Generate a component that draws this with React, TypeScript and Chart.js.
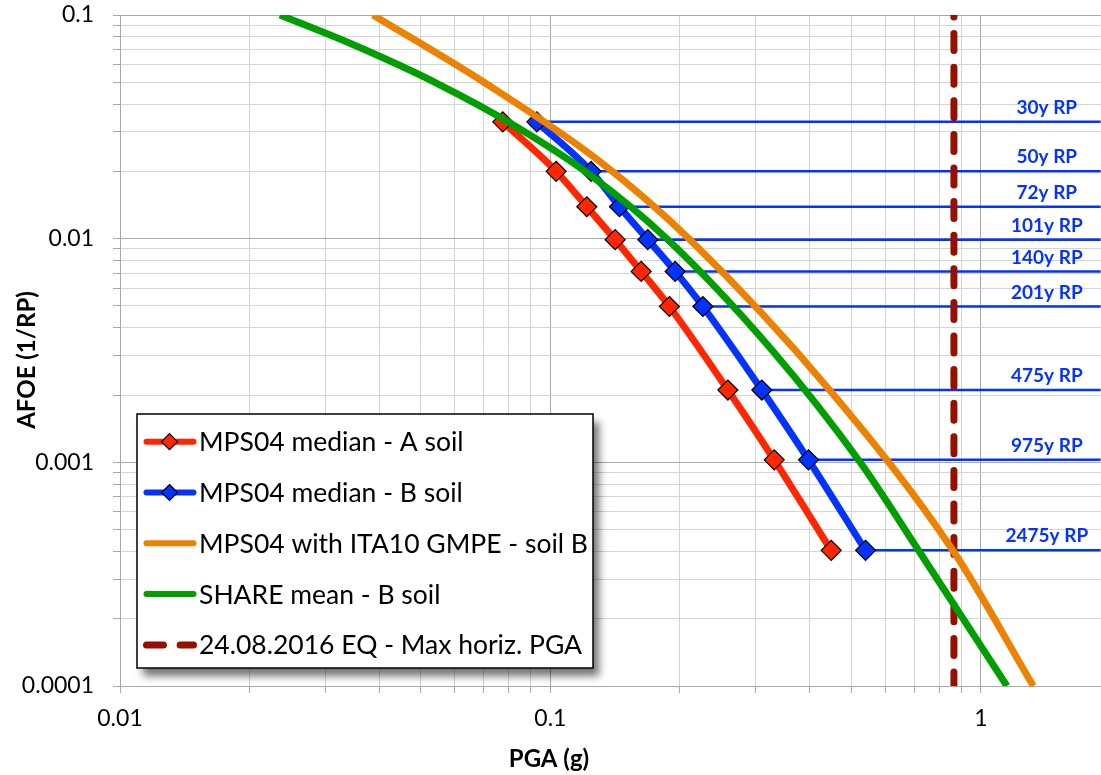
import React, { useEffect, useRef } from 'react';
import { Chart, registerables } from 'chart.js';

Chart.register(...registerables);

// ---------- data ----------
const rpLabels = ['30y RP', '50y RP', '72y RP', '101y RP', '140y RP', '201y RP', '475y RP', '975y RP', '2475y RP'];
const afoeRP = [0.0333, 0.02, 0.01389, 0.0099, 0.00714, 0.004975, 0.002105, 0.001026, 0.000404];

const pgaSoilA = [0.0775, 0.1031, 0.1215, 0.1414, 0.1625, 0.189, 0.2584, 0.3311, 0.4491];
const pgaSoilB = [0.093, 0.1243, 0.1447, 0.1684, 0.1949, 0.2261, 0.3099, 0.3977, 0.5397];

const ita10PGA = [0.0387, 0.0705, 0.1305, 0.2113, 0.4467, 0.8629, 1.324];
const ita10AFOE = [0.1, 0.04966, 0.02208, 0.009864, 0.002091, 0.0004014, 0.0001];

const sharePGA = [0.02353, 0.03423, 0.05445, 0.08205, 0.1237, 0.1878, 0.327, 0.5244, 0.7232, 1.1499];
const shareAFOE = [0.1, 0.0747, 0.04951, 0.03224, 0.01926, 0.009864, 0.003179, 0.0010004, 0.0003933, 0.0001];

const eqPGA = 0.866;

const seriesLabels = [
  'MPS04 median - A soil',
  'MPS04 median - B soil',
  'MPS04 with ITA10 GMPE - soil B',
  'SHARE mean - B soil',
  '24.08.2016 EQ - Max horiz. PGA',
];

const xTickLabels = ['0.01', '0.1', '1'];
const yTickLabels = ['0.0001', '0.001', '0.01', '0.1'];
const xTitle = 'PGA (g)';
const yTitle = 'AFOE (1/RP)';

const X_MIN = 0.01;
const X_MAX = 1.9;
const Y_MIN = 0.0001;
const Y_MAX = 0.1;

// ---------- styles ----------
const RED = '#FF2600';
const BLUE = '#0433FF';
const ORANGE = '#EC8200';
const GREEN = '#009E00';
const MAROON = '#941100';
const FONT = 'Lato, "Open Sans", sans-serif';

function logGrid(min: number, max: number): number[] {
  const out: number[] = [];
  const e0 = Math.floor(Math.log10(min) + 1e-9);
  const e1 = Math.ceil(Math.log10(max) - 1e-9);
  for (let e = e0; e <= e1; e++) {
    for (let m = 1; m <= 9; m++) {
      const v = Number((m * Math.pow(10, e)).toPrecision(6));
      if (v >= min * 0.9999 && v <= max * 1.0001) out.push(v);
    }
  }
  return out;
}

const isDecade = (v: number) => Math.abs(Math.log10(v) - Math.round(Math.log10(v))) < 1e-6;

function fmt(v: number) {
  return String(Number(v.toPrecision(6)));
}

const overlayPlugin = {
  id: 'overlay',
  afterDraw(chart: any) {
    const { ctx, chartArea, scales } = chart;
    const ys = scales.y;
    ctx.save();

    // RP labels
    ctx.fillStyle = BLUE;
    ctx.font = `bold 19px ${FONT}`;
    ctx.textAlign = 'center';
    ctx.textBaseline = 'middle';
    rpLabels.forEach((lab, i) => {
      const py = ys.getPixelForValue(afoeRP[i]);
      ctx.fillText(lab, chartArea.right - 54, py - 14);
    });

    // axis titles
    ctx.fillStyle = '#000';
    ctx.font = `bold 24px ${FONT}`;
    ctx.textAlign = 'center';
    ctx.textBaseline = 'middle';
    ctx.fillText(xTitle, 549, 759);
    ctx.save();
    ctx.translate(27, 360);
    ctx.rotate(-Math.PI / 2);
    ctx.fillText(yTitle, 0, 0);
    ctx.restore();

    // legend box
    const L = { left: 137, top: 414, right: 593, bottom: 668 };
    ctx.save();
    ctx.shadowColor = 'rgba(0,0,0,0.55)';
    ctx.shadowBlur = 8;
    ctx.shadowOffsetX = 6;
    ctx.shadowOffsetY = 8;
    ctx.fillStyle = '#fff';
    ctx.fillRect(L.left, L.top, L.right - L.left, L.bottom - L.top);
    ctx.restore();
    ctx.strokeStyle = '#000';
    ctx.lineWidth = 1.5;
    ctx.strokeRect(L.left, L.top, L.right - L.left, L.bottom - L.top);

    const rowY0 = 441.7;
    const rowStep = 50.8;
    for (let i = 0; i < 5; i++) {
      const ds = chart.data.datasets[i];
      const y = rowY0 + i * rowStep;
      ctx.save();
      ctx.strokeStyle = ds.borderColor;
      ctx.lineWidth = 6;
      ctx.lineCap = 'round';
      if (ds.borderDash) {
        ctx.setLineDash(ds.borderDash);
        ctx.lineDashOffset = 0;
        ctx.lineWidth = 7;
      }
      ctx.beginPath();
      ctx.moveTo(146.5, y);
      ctx.lineTo(193.5, y);
      ctx.stroke();
      ctx.restore();
      if (ds.pointRadius > 0) {
        const r = 8;
        const cx = 169.5;
        ctx.beginPath();
        ctx.moveTo(cx, y - r);
        ctx.lineTo(cx + r, y);
        ctx.lineTo(cx, y + r);
        ctx.lineTo(cx - r, y);
        ctx.closePath();
        ctx.fillStyle = ds.pointBackgroundColor;
        ctx.fill();
        ctx.strokeStyle = '#000';
        ctx.lineWidth = 1.2;
        ctx.stroke();
      }
      ctx.fillStyle = '#000';
      ctx.font = `26.5px ${FONT}`;
      ctx.textAlign = 'left';
      ctx.textBaseline = 'middle';
      ctx.fillText(ds.label, 199, y + 1);
    }
    ctx.restore();
  },
};

function axisOptions(min: number, max: number, labels: string[], isY: boolean) {
  const ticksList = logGrid(min, max);
  return {
    type: 'logarithmic',
    min,
    max,
    afterBuildTicks: (scale: any) => {
      scale.ticks = ticksList.map((v) => ({ value: v, major: isDecade(v) }));
    },
    afterFit: (scale: any) => {
      if (isY) scale.width = 120;
      else scale.height = 89;
      scale.paddingTop = 0;
      scale.paddingBottom = 0;
      scale.paddingLeft = 0;
      scale.paddingRight = 0;
    },
    grid: {
      color: (c: any) => (c.tick && isDecade(c.tick.value) ? '#a8a8a8' : '#d4d4d4'),
      lineWidth: 1,
      drawTicks: true,
      tickLength: 7,
      tickColor: '#a8a8a8',
    },
    border: { display: true, color: '#a8a8a8', width: 1 },
    ticks: {
      autoSkip: false,
      maxRotation: 0,
      minRotation: 0,
      padding: isY ? 19 : 12,
      color: '#000',
      font: { family: FONT, size: 23 },
      callback: (v: any) => {
        const s = fmt(Number(v));
        return labels.includes(s) ? s : '';
      },
    },
  };
}

export default function App() {
  const ref = useRef<HTMLCanvasElement>(null);
  useEffect(() => {
    if (!ref.current) return;
    const pts = (xs: number[], ys: number[]) => xs.map((x, i) => ({ x, y: ys[i] }));
    const rpLines = afoeRP.map((a, i) => ({
      label: rpLabels[i],
      data: [{ x: pgaSoilB[i], y: a }, { x: X_MAX, y: a }],
      borderColor: BLUE,
      borderWidth: 2.5,
      pointRadius: 0,
      order: 10,
    }));
    const chart = new Chart(ref.current, {
      type: 'line',
      data: {
        datasets: [
          {
            label: seriesLabels[0],
            data: pts(pgaSoilA, afoeRP),
            borderColor: RED,
            borderWidth: 7,
            cubicInterpolationMode: 'monotone',
            pointStyle: 'rectRot',
            pointRadius: 10,
            pointBackgroundColor: RED,
            pointBorderColor: '#000',
            pointBorderWidth: 1.2,
            order: 5,
          },
          {
            label: seriesLabels[1],
            data: pts(pgaSoilB, afoeRP),
            borderColor: BLUE,
            borderWidth: 7,
            cubicInterpolationMode: 'monotone',
            pointStyle: 'rectRot',
            pointRadius: 10,
            pointBackgroundColor: BLUE,
            pointBorderColor: '#000',
            pointBorderWidth: 1.2,
            order: 4,
          },
          {
            label: seriesLabels[2],
            data: pts(ita10PGA, ita10AFOE),
            borderColor: ORANGE,
            borderWidth: 7,
            cubicInterpolationMode: 'monotone',
            pointRadius: 0,
            order: 3,
          },
          {
            label: seriesLabels[3],
            data: pts(sharePGA, shareAFOE),
            borderColor: GREEN,
            borderWidth: 7,
            cubicInterpolationMode: 'monotone',
            pointRadius: 0,
            order: 2,
          },
          {
            label: seriesLabels[4],
            data: [{ x: eqPGA, y: Y_MAX }, { x: eqPGA, y: Y_MIN }],
            borderColor: MAROON,
            borderWidth: 7,
            borderDash: [17, 16.6],
            borderDashOffset: 15,
            borderCapStyle: 'round',
            pointRadius: 0,
            order: 9,
          },
          ...rpLines,
        ],
      } as any,
      options: {
        animation: false,
        responsive: true,
        maintainAspectRatio: false,
        parsing: false as any,
        normalized: true,
        layout: { padding: { top: 15, right: 0, left: 0, bottom: 0 } },
        plugins: {
          legend: { display: false },
          tooltip: { enabled: false },
          title: { display: false },
        },
        scales: {
          x: axisOptions(X_MIN, X_MAX, xTickLabels, false) as any,
          y: axisOptions(Y_MIN, Y_MAX, yTickLabels, true) as any,
        },
      },
      plugins: [overlayPlugin],
    });
    return () => chart.destroy();
  }, []);

  return (
    <div style={{ position: 'fixed', left: 0, top: 0, width: 1101, height: 775, overflow: 'hidden', background: '#fff' }}>
      <div style={{ position: 'absolute', left: 0, top: 0, width: 1112, height: 775 }}>
        <canvas ref={ref} />
      </div>
    </div>
  );
}
